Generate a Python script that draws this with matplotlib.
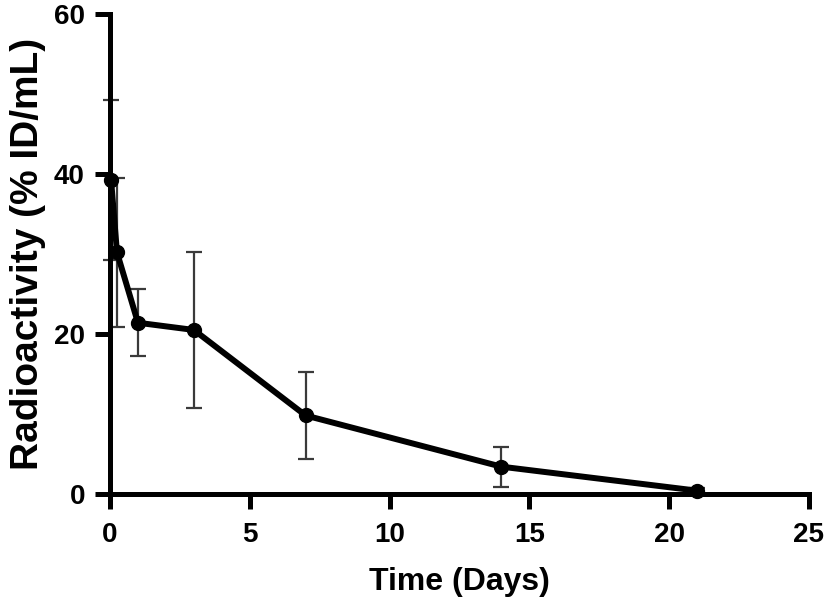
import matplotlib.pyplot as plt

plt.rcParams['font.family'] = ['Liberation Sans', 'DejaVu Sans']
plt.rcParams['font.weight'] = 'bold'

# Datos
tiempo = [0.04, 0.25, 1, 3, 7, 14, 21]
actividad = [39.2, 30.2, 21.4, 20.5, 9.8, 3.4, 0.4]
error = [10.0, 9.3, 4.2, 9.8, 5.5, 2.5, 0.3]

xticks = [0, 5, 10, 15, 20, 25]
yticks = [0, 20, 40, 60]

fig = plt.figure(figsize=(8.27, 6.15), dpi=100)
ax = fig.add_axes([0.133, 0.197, 0.845, 0.78])

# Barras de error
ax.errorbar(tiempo, actividad, yerr=error, fmt='none', ecolor='#3a3a3a',
            elinewidth=1.6, capsize=6, capthick=1.6, clip_on=False, zorder=2)
# Curva
ax.plot(tiempo, actividad, color='black', linewidth=4.3, marker='o',
        markersize=10, clip_on=False, zorder=3)

ax.set_xlim(0, 25)
ax.set_ylim(0, 60)
ax.set_xticks(xticks)
ax.set_yticks(yticks)

for s in ['top', 'right']:
    ax.spines[s].set_visible(False)
for s in ['left', 'bottom']:
    ax.spines[s].set_linewidth(3.6)

ax.tick_params(axis='both', direction='out', length=11, width=3.6,
               labelsize=20, pad=7)
ax.tick_params(axis='x', pad=9)
for lbl in ax.get_xticklabels() + ax.get_yticklabels():
    lbl.set_fontweight('bold')

ax.set_xlabel('Time (Days)', fontsize=23, fontweight='bold', labelpad=14)
ax.set_ylabel('Radioactivity (% ID/mL)', fontsize=28, fontweight='bold', labelpad=6)

fig.savefig('out.png', dpi=100)
